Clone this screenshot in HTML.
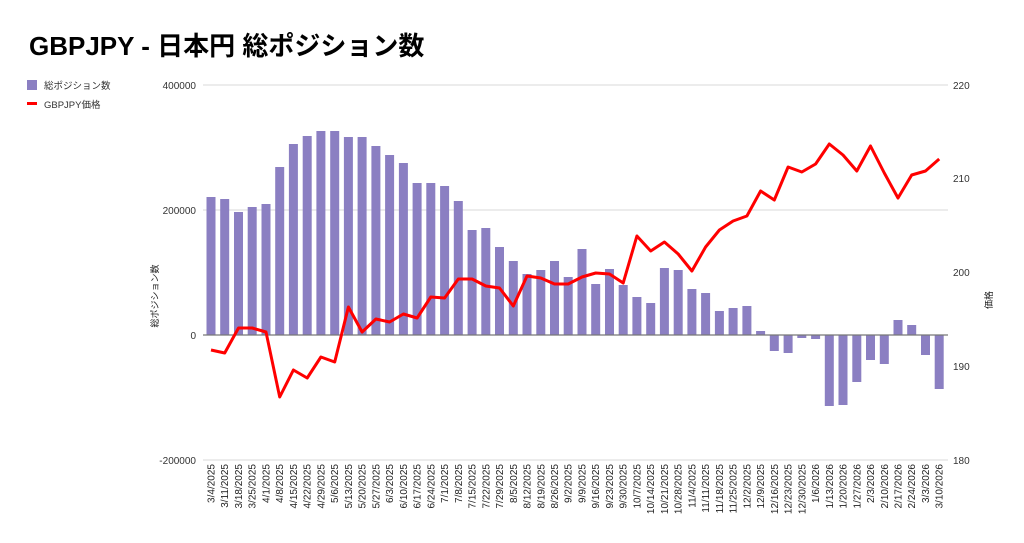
<!DOCTYPE html>
<html><head><meta charset="utf-8"><style>
body{margin:0;background:#fff;}
svg{display:block;font-family:"Liberation Sans","Noto Sans CJK JP",sans-serif;}
</style></head><body>
<svg width="1024" height="543" viewBox="0 0 1024 543">
<rect width="1024" height="543" fill="#fff"/>
<text x="29" y="55" font-size="26" font-weight="bold" fill="#000">GBPJPY - 日本円 総ポジション数</text>
<rect x="27" y="80" width="10" height="10" fill="#8b7fc2"/>
<text x="44" y="89" font-size="9.5" fill="#333">総ポジション数</text>
<rect x="27" y="102" width="10" height="3" fill="#f00"/>
<text x="44" y="108" font-size="9.5" fill="#333">GBPJPY価格</text>
<g stroke="#d9d9d9" stroke-width="1">
<line x1="203" y1="85" x2="948" y2="85"/><line x1="203" y1="210" x2="948" y2="210"/><line x1="203" y1="460" x2="948" y2="460"/>
</g>
<g font-size="10" fill="#333" text-anchor="end">
<text x="196" y="89">400000</text><text x="196" y="214">200000</text><text x="196" y="339">0</text><text x="196" y="464">-200000</text>
</g>
<g font-size="10" fill="#333">
<text x="953" y="89">220</text><text x="953" y="182">210</text><text x="953" y="276">200</text><text x="953" y="370">190</text><text x="953" y="464">180</text>
</g>
<text transform="translate(158,296) rotate(-90)" font-size="9" text-anchor="middle" fill="#222">総ポジション数</text>
<text transform="translate(992,300) rotate(-90)" font-size="9" text-anchor="middle" fill="#222">価格</text>
<g fill="#8b7fc2">
<rect x="206.5" y="197" width="9" height="138"/>
<rect x="220.2" y="199" width="9" height="136"/>
<rect x="234.0" y="212" width="9" height="123"/>
<rect x="247.7" y="207" width="9" height="128"/>
<rect x="261.5" y="204" width="9" height="131"/>
<rect x="275.2" y="167" width="9" height="168"/>
<rect x="288.9" y="144" width="9" height="191"/>
<rect x="302.7" y="136" width="9" height="199"/>
<rect x="316.4" y="131" width="9" height="204"/>
<rect x="330.2" y="131" width="9" height="204"/>
<rect x="343.9" y="137" width="9" height="198"/>
<rect x="357.6" y="137" width="9" height="198"/>
<rect x="371.4" y="146" width="9" height="189"/>
<rect x="385.1" y="155" width="9" height="180"/>
<rect x="398.9" y="163" width="9" height="172"/>
<rect x="412.6" y="183" width="9" height="152"/>
<rect x="426.3" y="183" width="9" height="152"/>
<rect x="440.1" y="186" width="9" height="149"/>
<rect x="453.8" y="201" width="9" height="134"/>
<rect x="467.6" y="230" width="9" height="105"/>
<rect x="481.3" y="228" width="9" height="107"/>
<rect x="495.0" y="247" width="9" height="88"/>
<rect x="508.8" y="261" width="9" height="74"/>
<rect x="522.5" y="274" width="9" height="61"/>
<rect x="536.3" y="270" width="9" height="65"/>
<rect x="550.0" y="261" width="9" height="74"/>
<rect x="563.7" y="277" width="9" height="58"/>
<rect x="577.5" y="249" width="9" height="86"/>
<rect x="591.2" y="284" width="9" height="51"/>
<rect x="605.0" y="269" width="9" height="66"/>
<rect x="618.7" y="285" width="9" height="50"/>
<rect x="632.4" y="297" width="9" height="38"/>
<rect x="646.2" y="303" width="9" height="32"/>
<rect x="659.9" y="268" width="9" height="67"/>
<rect x="673.7" y="270" width="9" height="65"/>
<rect x="687.4" y="289" width="9" height="46"/>
<rect x="701.1" y="293" width="9" height="42"/>
<rect x="714.9" y="311" width="9" height="24"/>
<rect x="728.6" y="308" width="9" height="27"/>
<rect x="742.4" y="306" width="9" height="29"/>
<rect x="756.1" y="331" width="9" height="4"/>
<rect x="769.8" y="335" width="9" height="16"/>
<rect x="783.6" y="335" width="9" height="18"/>
<rect x="797.3" y="335" width="9" height="3"/>
<rect x="811.1" y="335" width="9" height="4"/>
<rect x="824.8" y="335" width="9" height="71"/>
<rect x="838.5" y="335" width="9" height="70"/>
<rect x="852.3" y="335" width="9" height="47"/>
<rect x="866.0" y="335" width="9" height="25"/>
<rect x="879.8" y="335" width="9" height="29"/>
<rect x="893.5" y="320" width="9" height="15"/>
<rect x="907.2" y="325" width="9" height="10"/>
<rect x="921.0" y="335" width="9" height="20"/>
<rect x="934.7" y="335" width="9" height="54"/>
</g>
<line x1="203" y1="335" x2="948" y2="335" stroke="#777" stroke-width="1.2"/>
<polyline fill="none" stroke="#f00" stroke-width="3" stroke-linejoin="round" points="211.0,350 224.7,353 238.5,328 252.2,328 266.0,332 279.7,397 293.4,370 307.2,378 320.9,357 334.7,362 348.4,307 362.1,332 375.9,319 389.6,322 403.4,314 417.1,318 430.8,297 444.6,298 458.3,279 472.1,279 485.8,286 499.5,288 513.3,306 527.0,276 540.8,278 554.5,284 568.2,284 582.0,277 595.7,273 609.5,274 623.2,283 636.9,236 650.7,251 664.4,242 678.2,254 691.9,271 705.6,247 719.4,230 733.1,221 746.9,216 760.6,191 774.3,200 788.1,167 801.8,172 815.6,164 829.3,144 843.0,155 856.8,171 870.5,146 884.3,173 898.0,198 911.7,175 925.5,171 939.2,159"/>
<g font-size="10" fill="#222" text-anchor="end">
<text transform="translate(214.5,464) rotate(-90)">3/4/2025</text>
<text transform="translate(228.2,464) rotate(-90)">3/11/2025</text>
<text transform="translate(242.0,464) rotate(-90)">3/18/2025</text>
<text transform="translate(255.7,464) rotate(-90)">3/25/2025</text>
<text transform="translate(269.5,464) rotate(-90)">4/1/2025</text>
<text transform="translate(283.2,464) rotate(-90)">4/8/2025</text>
<text transform="translate(296.9,464) rotate(-90)">4/15/2025</text>
<text transform="translate(310.7,464) rotate(-90)">4/22/2025</text>
<text transform="translate(324.4,464) rotate(-90)">4/29/2025</text>
<text transform="translate(338.2,464) rotate(-90)">5/6/2025</text>
<text transform="translate(351.9,464) rotate(-90)">5/13/2025</text>
<text transform="translate(365.6,464) rotate(-90)">5/20/2025</text>
<text transform="translate(379.4,464) rotate(-90)">5/27/2025</text>
<text transform="translate(393.1,464) rotate(-90)">6/3/2025</text>
<text transform="translate(406.9,464) rotate(-90)">6/10/2025</text>
<text transform="translate(420.6,464) rotate(-90)">6/17/2025</text>
<text transform="translate(434.3,464) rotate(-90)">6/24/2025</text>
<text transform="translate(448.1,464) rotate(-90)">7/1/2025</text>
<text transform="translate(461.8,464) rotate(-90)">7/8/2025</text>
<text transform="translate(475.6,464) rotate(-90)">7/15/2025</text>
<text transform="translate(489.3,464) rotate(-90)">7/22/2025</text>
<text transform="translate(503.0,464) rotate(-90)">7/29/2025</text>
<text transform="translate(516.8,464) rotate(-90)">8/5/2025</text>
<text transform="translate(530.5,464) rotate(-90)">8/12/2025</text>
<text transform="translate(544.3,464) rotate(-90)">8/19/2025</text>
<text transform="translate(558.0,464) rotate(-90)">8/26/2025</text>
<text transform="translate(571.7,464) rotate(-90)">9/2/2025</text>
<text transform="translate(585.5,464) rotate(-90)">9/9/2025</text>
<text transform="translate(599.2,464) rotate(-90)">9/16/2025</text>
<text transform="translate(613.0,464) rotate(-90)">9/23/2025</text>
<text transform="translate(626.7,464) rotate(-90)">9/30/2025</text>
<text transform="translate(640.4,464) rotate(-90)">10/7/2025</text>
<text transform="translate(654.2,464) rotate(-90)">10/14/2025</text>
<text transform="translate(667.9,464) rotate(-90)">10/21/2025</text>
<text transform="translate(681.7,464) rotate(-90)">10/28/2025</text>
<text transform="translate(695.4,464) rotate(-90)">11/4/2025</text>
<text transform="translate(709.1,464) rotate(-90)">11/11/2025</text>
<text transform="translate(722.9,464) rotate(-90)">11/18/2025</text>
<text transform="translate(736.6,464) rotate(-90)">11/25/2025</text>
<text transform="translate(750.4,464) rotate(-90)">12/2/2025</text>
<text transform="translate(764.1,464) rotate(-90)">12/9/2025</text>
<text transform="translate(777.8,464) rotate(-90)">12/16/2025</text>
<text transform="translate(791.6,464) rotate(-90)">12/23/2025</text>
<text transform="translate(805.3,464) rotate(-90)">12/30/2025</text>
<text transform="translate(819.1,464) rotate(-90)">1/6/2026</text>
<text transform="translate(832.8,464) rotate(-90)">1/13/2026</text>
<text transform="translate(846.5,464) rotate(-90)">1/20/2026</text>
<text transform="translate(860.3,464) rotate(-90)">1/27/2026</text>
<text transform="translate(874.0,464) rotate(-90)">2/3/2026</text>
<text transform="translate(887.8,464) rotate(-90)">2/10/2026</text>
<text transform="translate(901.5,464) rotate(-90)">2/17/2026</text>
<text transform="translate(915.2,464) rotate(-90)">2/24/2026</text>
<text transform="translate(929.0,464) rotate(-90)">3/3/2026</text>
<text transform="translate(942.7,464) rotate(-90)">3/10/2026</text>
</g>
</svg>
</body></html>
